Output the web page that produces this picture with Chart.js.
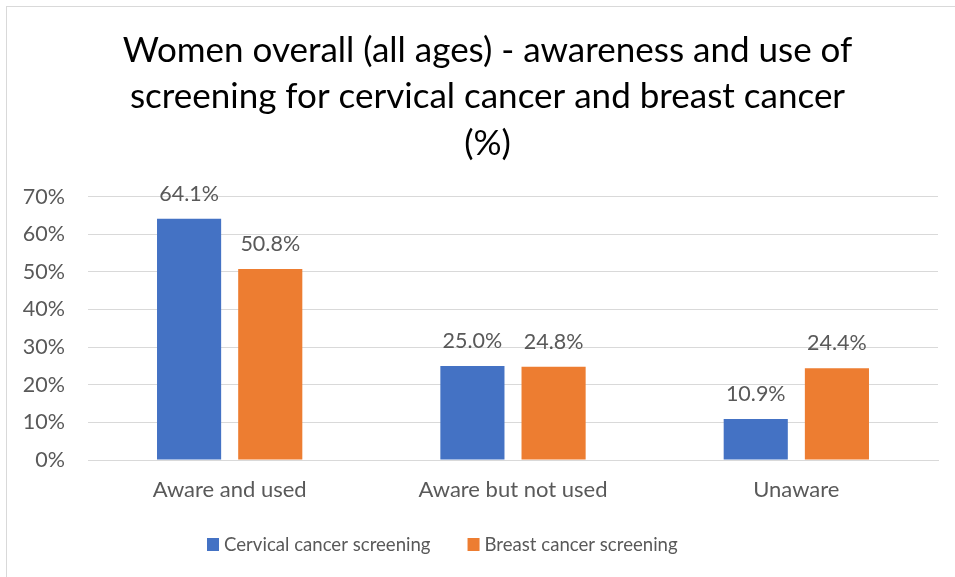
<!DOCTYPE html>
<html>
<head>
<meta charset="utf-8">
<script src="https://cdn.jsdelivr.net/npm/chart.js@4.4.1/dist/chart.umd.min.js"></script>
<style>
  html, body { margin: 0; padding: 0; background: #fff; overflow: hidden; }
  #frame {
    position: absolute; left: 6px; top: 6px; width: 1000px; height: 600px;
    border-left: 1px solid #d9d9d9; border-top: 1px solid #d9d9d9;
  }
  #wrap { position: absolute; left: 0; top: 0; width: 955px; height: 577px; }
</style>
</head>
<body>
<div id="frame"></div>
<div id="wrap"><canvas id="chart" width="955" height="577"></canvas></div>
<script>
const categories = ["Aware and used", "Aware but not used", "Unaware"];
const cervicalValues = [64.1, 25.0, 10.9];
const breastValues = [50.8, 24.8, 24.4];
const titleLines = [
  "Women overall (all ages) - awareness and use of",
  "screening for cervical cancer and breast cancer",
  "(%)"
];

const FONT = "Lato, 'Open Sans', sans-serif";
const GREY = "#595959";

// value labels above each bar
const barLabels = {
  id: "barLabels",
  afterDatasetsDraw(chart) {
    const ctx = chart.ctx;
    ctx.save();
    ctx.font = "21.5px " + FONT;
    ctx.fillStyle = GREY;
    ctx.textAlign = "center";
    ctx.textBaseline = "middle";
    chart.data.datasets.forEach((ds, i) => {
      chart.getDatasetMeta(i).data.forEach((bar, j) => {
        ctx.fillText(ds.data[j].toFixed(1) + "%", bar.x, bar.y - 25);
      });
    });
    ctx.restore();
  }
};

// legend drawn like the Excel one: small square, tight text, wide gap
const excelLegend = {
  id: "excelLegend",
  afterDraw(chart) {
    const ctx = chart.ctx;
    ctx.save();
    ctx.font = "18.6px " + FONT;
    ctx.textBaseline = "middle";
    ctx.textAlign = "left";
    let x = 207;
    const y = 545;
    chart.data.datasets.forEach(ds => {
      ctx.fillStyle = ds.backgroundColor;
      ctx.fillRect(x, y - 7, 12, 13);
      ctx.fillStyle = GREY;
      ctx.fillText(ds.label, x + 17, y);
      x += 17 + ctx.measureText(ds.label).width + 37;
    });
    ctx.restore();
  }
};

new Chart(document.getElementById("chart"), {
  type: "bar",
  data: {
    labels: categories,
    datasets: [
      {
        label: "Cervical cancer screening",
        data: cervicalValues,
        backgroundColor: "#4472C4"
      },
      {
        label: "Breast cancer screening",
        data: breastValues,
        backgroundColor: "#ED7D31"
      }
    ]
  },
  options: {
    responsive: false,
    animation: false,
    devicePixelRatio: 1,
    categoryPercentage: 0.573,
    barPercentage: 0.79,
    layout: { padding: { left: 20, right: 0, top: 0, bottom: 57 } },
    plugins: {
      title: {
        display: true,
        text: titleLines,
        color: "#000",
        font: { family: FONT, size: 35, weight: "normal", lineHeight: 1.33 },
        padding: { top: 27, bottom: 30 }
      },
      legend: { display: false },
      tooltip: { enabled: false }
    },
    scales: {
      x: {
        grid: { display: false, drawTicks: false },
        border: { color: "#d9d9d9" },
        ticks: { color: GREY, font: { family: FONT, size: 22 }, padding: 17 },
        afterFit(scale) { scale.height = 60; }
      },
      y: {
        min: 0,
        max: 70,
        grid: { color: "#d9d9d9", drawTicks: false },
        border: { display: false },
        ticks: {
          stepSize: 10,
          color: GREY,
          font: { family: FONT, size: 21.5 },
          padding: 23,
          callback: v => v + "%"
        },
        afterFit(scale) { scale.width = 68; }
      },
      // empty right-hand axis, only to keep the plot's right margin
      yRight: {
        position: "right",
        grid: { display: false, drawTicks: false },
        border: { display: false },
        ticks: { display: false },
        afterFit(scale) { scale.width = 17; }
      }
    }
  },
  plugins: [barLabels, excelLegend]
});
</script>
</body>
</html>
